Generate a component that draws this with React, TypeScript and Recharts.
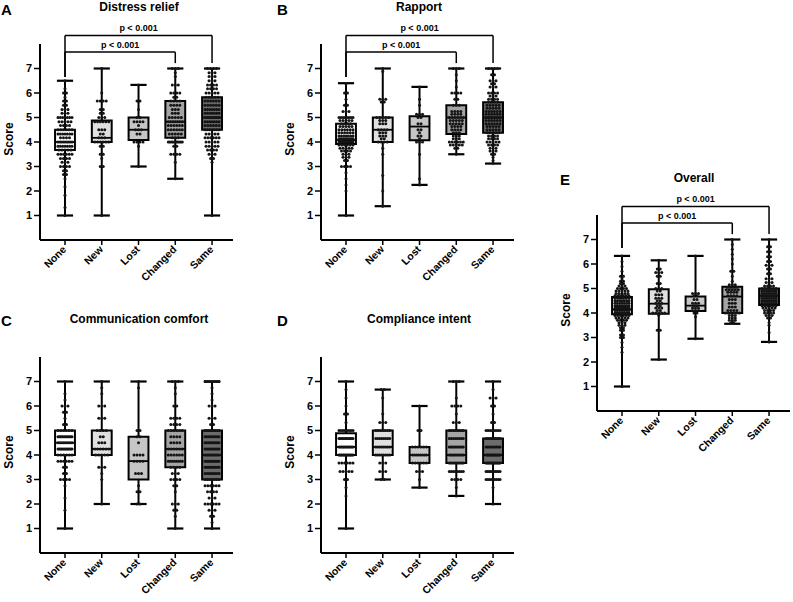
import React from 'react';
import { ComposedChart, XAxis, YAxis, Scatter, ReferenceArea, ReferenceLine } from 'recharts';

const FONT = '"Liberation Sans", Arial, Helvetica, sans-serif';

const categories = ['None', 'New', 'Lost', 'Changed', 'Same'];
const yTicks = [1, 2, 3, 4, 5, 6, 7];
const xTicks = [0, 1, 2, 3, 4];
const boxFills = ['#ffffff', '#e0e0e0', '#c6c6c6', '#a4a4a4', '#6c6c6c'];

// box statistics per category: [min, q1, median, q3, max]
const distressBoxes = [
  [1, 3.67, 4, 4.5, 6.5],
  [1, 4, 4.17, 4.88, 7],
  [3, 4.08, 4.5, 5, 6.33],
  [2.5, 4.17, 4.83, 5.67, 7],
  [1, 4.5, 5, 5.83, 7],
];
const rapportBoxes = [
  [1, 3.92, 4.08, 4.75, 6.4],
  [1.38, 4, 4.5, 5, 7],
  [2.25, 4.07, 4.63, 5.05, 6.25],
  [3.5, 4.33, 5, 5.5, 7],
  [3.12, 4.38, 5, 5.62, 7],
];
const commBoxes = [
  [1, 4, 4.5, 5, 7],
  [2, 4, 4.25, 5, 7],
  [2, 3, 3.75, 4.75, 7],
  [1, 3.5, 4.25, 5, 7],
  [1, 3, 4, 5, 7],
];
const complianceBoxes = [
  [1, 4, 4.33, 4.89, 7],
  [3, 4, 4.33, 5, 6.67],
  [2.67, 3.67, 4, 4.33, 6],
  [2.33, 3.67, 4, 5, 7],
  [2, 3.67, 4, 4.67, 7],
];
const overallBoxes = [
  [1, 3.95, 4.15, 4.65, 6.33],
  [2.1, 3.97, 4.38, 4.97, 6.15],
  [2.95, 4.08, 4.3, 4.67, 6.33],
  [3.56, 4, 4.67, 5.07, 7],
  [2.82, 4.33, 4.7, 5, 7],
];

// individual scores per category as [score, number of respondents]
const distressPoints = [
  [[6.5,1],[6.17,1],[6,2],[5.83,1],[5.67,2],[5.5,2],[5.33,3],[5.17,3],[5,7],[4.83,5],[4.67,4],[4.5,6],[4.33,7],[4.17,4],[4,8],[3.83,7],[3.67,5],[3.5,6],[3.33,4],[3.17,3],[3,4],[2.83,2],[2.67,2],[2.5,1],[2.17,1],[1.83,1],[1.33,1],[1,1]],
  [[7,1],[6,1],[5.67,4],[5.33,2],[5.17,2],[5,3],[4.83,6],[4.5,3],[4.33,2],[4.17,3],[4,6],[3.83,2],[3.5,2],[3.33,1],[3,2],[1,1]],
  [[6.33,1],[5.67,2],[5.33,1],[5,2],[4.83,4],[4.67,1],[4.5,3],[4.33,2],[4,4],[3.83,1],[3,1]],
  [[7,3],[6.83,1],[6.67,1],[6.33,3],[6,4],[5.83,2],[5.67,4],[5.5,4],[5.33,3],[5.17,3],[5,5],[4.83,7],[4.67,6],[4.5,6],[4.33,5],[4.17,3],[4,10],[3.83,2],[3.5,4],[3.17,1],[2.5,1]],
  [[7,4],[6.83,3],[6.67,3],[6.5,3],[6.33,4],[6.17,4],[6,5],[5.83,5],[5.67,6],[5.5,6],[5.33,7],[5.17,7],[5,9],[4.83,7],[4.67,6],[4.5,7],[4.33,5],[4.17,6],[4,5],[3.83,5],[3.67,4],[3.5,3],[3.33,2],[3.17,1],[1,1]],
];
const rapportPoints = [
  [[6.38,1],[6,2],[5.75,1],[5.5,2],[5.25,3],[5,8],[4.88,5],[4.75,4],[4.63,5],[4.5,6],[4.38,6],[4.25,7],[4.13,8],[4,10],[3.88,6],[3.75,5],[3.63,4],[3.5,3],[3.38,3],[3.25,2],[3,4],[2.75,1],[2.5,1],[2.25,1],[2,1],[1,1]],
  [[7,1],[6.88,1],[5.75,3],[5.63,2],[5,5],[4.88,3],[4.75,3],[4.5,4],[4.38,3],[4.25,3],[4.13,2],[4,4],[3.75,1],[3.5,1],[2.63,1],[2,1],[1.38,1]],
  [[6.25,1],[5.75,1],[5.5,1],[5.13,3],[5,2],[4.75,2],[4.5,2],[4.38,1],[4.25,2],[4.13,1],[4,3],[3.5,1],[2.5,1],[2.25,1]],
  [[7,3],[6.75,1],[6.5,1],[6.25,1],[6,4],[5.75,2],[5.5,3],[5.25,4],[5.13,4],[5,6],[4.88,5],[4.75,5],[4.63,4],[4.5,4],[4.38,3],[4.25,3],[4.13,3],[4,6],[3.88,5],[3.75,2],[3.5,1]],
  [[7,4],[6.75,2],[6.5,3],[6.38,2],[6.25,3],[6,4],[5.88,3],[5.75,4],[5.63,4],[5.5,5],[5.38,5],[5.25,6],[5.13,6],[5,8],[4.88,6],[4.75,6],[4.63,5],[4.5,5],[4.38,5],[4.25,4],[4.13,4],[4,5],[3.88,4],[3.75,3],[3.63,3],[3.5,2],[3.38,1],[3.25,1],[3.13,1]],
];
const commPoints = [
  [[7,1],[6.5,1],[6.25,1],[6,3],[5.75,2],[5.5,1],[5.25,2],[5,6],[4.75,12],[4.5,8],[4.25,12],[4,6],[3.75,6],[3.5,2],[3.25,2],[3,4],[2.75,1],[2.25,1],[1.75,1],[1,1]],
  [[7,1],[6.75,1],[6.5,1],[6,3],[5.5,3],[5,4],[4.75,2],[4.5,3],[4.25,6],[4,5],[3.5,3],[3.25,1],[3,1],[2,1]],
  [[7,1],[6.75,1],[5,2],[4.75,2],[4.5,1],[4,4],[3.75,4],[3.25,3],[2.75,1],[2.5,2],[2,2]],
  [[7,3],[6.75,1],[6.5,1],[6,2],[5.5,4],[5.25,4],[5,6],[4.75,4],[4.5,4],[4.25,6],[4,6],[3.75,8],[3.5,4],[3.25,3],[3,4],[2.75,2],[2.5,1],[2,3],[1.75,2],[1.5,1],[1,1]],
  [[7,8],[6.75,1],[6.5,1],[6.25,1],[6,3],[5.5,3],[5.25,2],[5,8],[4.75,10],[4.5,10],[4.25,10],[4,10],[3.75,12],[3.5,10],[3.25,8],[3,7],[2.75,6],[2.5,4],[2.25,3],[2,6],[1.75,3],[1.5,2],[1.25,1],[1,1]],
];
const compliancePoints = [
  [[7,1],[6.67,1],[6.33,1],[6,1],[5.67,2],[5.33,1],[5,8],[4.67,12],[4.33,12],[4,14],[3.67,6],[3.33,5],[3,2],[2.67,1],[2.33,1],[1,1]],
  [[6.67,2],[6.33,1],[5.67,1],[5.33,3],[5,7],[4.67,8],[4.33,8],[4,8],[3.67,3],[3.33,3],[3,2]],
  [[6,1],[5,2],[4.33,6],[4,8],[3.67,6],[3.33,3],[3,1],[2.67,1]],
  [[7,3],[6.33,1],[6,4],[5.67,1],[5.33,3],[5,8],[4.67,8],[4.33,10],[4,10],[3.67,10],[3.33,8],[3,4],[2.67,1],[2.33,1]],
  [[7,1],[6.67,1],[6.33,3],[6,2],[5.67,1],[5.33,2],[5,8],[4.67,8],[4.33,9],[4,14],[3.67,14],[3.33,10],[3,9],[2.67,1],[2,1]],
];
const overallPoints = [
  [[6.33,1],[6.1,1],[5.9,1],[5.7,1],[5.5,2],[5.4,1],[5.3,2],[5.2,2],[5.1,3],[5,4],[4.9,5],[4.8,5],[4.7,6],[4.6,6],[4.5,7],[4.4,7],[4.3,8],[4.2,8],[4.1,7],[4,8],[3.9,6],[3.8,5],[3.7,4],[3.6,3],[3.5,3],[3.4,2],[3.3,2],[3.1,2],[3,2],[2.8,1],[2.6,1],[2.4,1],[1,1]],
  [[6.15,1],[5.8,2],[5.65,3],[5.5,2],[5.2,2],[5,3],[4.9,2],[4.75,3],[4.6,3],[4.5,2],[4.4,3],[4.3,2],[4.2,3],[4.1,2],[4,5],[3.9,1],[3.3,2],[2.1,1]],
  [[6.33,1],[4.8,3],[4.7,2],[4.55,2],[4.4,3],[4.3,2],[4.2,3],[4.1,3],[4,2],[3.85,1],[2.95,1]],
  [[7,1],[6.8,1],[6.6,1],[6.4,1],[6.2,1],[6,1],[5.7,2],[5.5,1],[5.3,1],[5.15,3],[5.05,4],[4.95,5],[4.85,4],[4.7,4],[4.55,3],[4.4,3],[4.25,3],[4.1,4],[4,6],[3.9,3],[3.8,3],[3.7,3],[3.6,2]],
  [[7,1],[6.7,2],[6.5,2],[6.3,2],[6.1,2],[5.95,3],[5.8,2],[5.6,2],[5.4,3],[5.25,3],[5.1,4],[5,6],[4.9,7],[4.8,7],[4.7,7],[4.6,7],[4.5,7],[4.4,6],[4.3,6],[4.2,5],[4.1,4],[4,4],[3.9,3],[3.8,2],[3.6,1],[3.5,1],[3.2,1],[2.82,1]],
];

// pairwise comparisons: [from category, to category, label]
const significantComparisons = [
  [0, 3, 'p < 0.001'],
  [0, 4, 'p < 0.001'],
];

// layout constants
const X_DOMAIN = [-0.68, 4.57];
const BOX_HALF = 0.27;
const CAP_HALF = 0.22;
const BRACKET_LEVELS = [7.67, 8.35];
const BRACKET_LEFT_END = 6.65;
const BRACKET_RIGHT_END = 7.22;
const PLOT_W = 193;
const PLOT_H = 196;
const ROW_MAX_W = 14;
const DOT_GAP = 3.0;

const expandPoints = (groups: number[][][]) => {
  const out: any[] = [];
  groups.forEach((rows, i) => {
    rows.forEach(([v, n]) => {
      for (let k = 0; k < n; k++) out.push({ x: i, y: v, k, n });
    });
  });
  return out;
};

const renderDot = (props: any) => {
  const { cx, cy, payload } = props;
  if (cx == null || cy == null) return <g />;
  const n = payload.n;
  const sp = n > 1 ? Math.min(DOT_GAP, ROW_MAX_W / (n - 1)) : 0;
  const dx = (payload.k - (n - 1) / 2) * sp;
  return <circle cx={cx + dx} cy={cy} r={1.5} fill="#151515" />;
};

const XTick = (props: any) => {
  const { x, y, payload } = props;
  const tx = x + 2;
  const ty = y + 3;
  return (
    <text x={tx} y={ty} transform={`rotate(-45, ${tx}, ${ty})`} textAnchor="end" fontSize={10.5} fontWeight="bold" fill="#000" fontFamily={FONT}>
      {categories[payload.value]}
    </text>
  );
};

const Panel = ({ plotLeft, plotTop, boxes, points, comparisons }: any) => {
  const data = expandPoints(points);
  return (
    <div style={{ position: 'absolute', left: plotLeft - 40, top: plotTop - 45 }}>
      <ComposedChart width={40 + PLOT_W + 8} height={45 + PLOT_H + 45} margin={{ top: 45, right: 8, bottom: 0, left: 0 }}>
        <XAxis
          type="number"
          dataKey="x"
          domain={X_DOMAIN}
          ticks={xTicks}
          interval={0}
          allowDataOverflow
          height={45}
          stroke="#000"
          axisLine={{ stroke: '#000', strokeWidth: 2 }}
          tickLine={{ stroke: '#000', strokeWidth: 1.5 }}
          tickSize={5}
          tick={<XTick />}
        />
        <YAxis
          type="number"
          dataKey="y"
          domain={[0, 8]}
          ticks={yTicks}
          interval={0}
          allowDataOverflow
          width={40}
          stroke="#000"
          axisLine={{ stroke: '#000', strokeWidth: 2 }}
          tickLine={{ stroke: '#000', strokeWidth: 1.5 }}
          tickSize={6}
          tickMargin={2}
          tick={{ fill: '#000', fontSize: 11, fontWeight: 'bold', fontFamily: FONT }}
        />
        {boxes.map((b: number[], i: number) => (
          <ReferenceArea key={'box' + i} x1={i - BOX_HALF} x2={i + BOX_HALF} y1={b[1]} y2={b[3]} fill={boxFills[i]} fillOpacity={1} stroke="#000" strokeWidth={2} />
        ))}
        {boxes.map((b: number[], i: number) => (
          <ReferenceLine key={'wl' + i} segment={[{ x: i, y: b[0] }, { x: i, y: b[1] }]} stroke="#000" strokeWidth={2} />
        ))}
        {boxes.map((b: number[], i: number) => (
          <ReferenceLine key={'wh' + i} segment={[{ x: i, y: b[3] }, { x: i, y: b[4] }]} stroke="#000" strokeWidth={2} />
        ))}
        {boxes.map((b: number[], i: number) => (
          <ReferenceLine key={'cl' + i} segment={[{ x: i - CAP_HALF, y: b[0] }, { x: i + CAP_HALF, y: b[0] }]} stroke="#000" strokeWidth={2.2} />
        ))}
        {boxes.map((b: number[], i: number) => (
          <ReferenceLine key={'ch' + i} segment={[{ x: i - CAP_HALF, y: b[4] }, { x: i + CAP_HALF, y: b[4] }]} stroke="#000" strokeWidth={2.2} />
        ))}
        <Scatter data={data} shape={renderDot} isAnimationActive={false} />
        {boxes.map((b: number[], i: number) => (
          <ReferenceLine key={'md' + i} segment={[{ x: i - BOX_HALF, y: b[2] }, { x: i + BOX_HALF, y: b[2] }]} stroke="#000" strokeWidth={1.8} />
        ))}
        {(comparisons || []).map((c: any[], j: number) => {
          const lvl = BRACKET_LEVELS[j];
          return [
            <ReferenceLine key={'bh' + j} ifOverflow="visible" segment={[{ x: c[0], y: lvl }, { x: c[1], y: lvl }]} stroke="#000" strokeWidth={1.5}
              label={{ value: c[2], position: 'top', offset: 4, fill: '#000', fontSize: 9, fontWeight: 'bold', fontFamily: FONT }} />,
            <ReferenceLine key={'bl' + j} ifOverflow="visible" segment={[{ x: c[0], y: lvl }, { x: c[0], y: BRACKET_LEFT_END }]} stroke="#000" strokeWidth={1.5} />,
            <ReferenceLine key={'br' + j} ifOverflow="visible" segment={[{ x: c[1], y: lvl }, { x: c[1], y: BRACKET_RIGHT_END }]} stroke="#000" strokeWidth={1.5} />,
          ];
        })}
      </ComposedChart>
    </div>
  );
};

const textBase: React.CSSProperties = {
  position: 'absolute',
  whiteSpace: 'nowrap',
  fontFamily: FONT,
  fontWeight: 'bold',
  color: '#000',
  lineHeight: 1,
};

const Title = ({ x, y, children }: any) => (
  <div style={{ ...textBase, left: x, top: y, fontSize: 12, transform: 'translate(-50%, -50%)' }}>{children}</div>
);
const Letter = ({ x, y, children }: any) => (
  <div style={{ ...textBase, left: x, top: y, fontSize: 15, transform: 'translate(0, -50%)' }}>{children}</div>
);
const ScoreLabel = ({ x, y }: any) => (
  <div style={{ ...textBase, left: x, top: y, fontSize: 12, transform: 'translate(-50%, -50%) rotate(-90deg)' }}>Score</div>
);

const panels = [
  { key: 'A', title: 'Distress relief', plotLeft: 40, plotTop: 43.5, boxes: distressBoxes, points: distressPoints, comparisons: significantComparisons, titleX: 139, titleY: 7, letterX: 1, letterY: 9 },
  { key: 'B', title: 'Rapport', plotLeft: 321, plotTop: 44, boxes: rapportBoxes, points: rapportPoints, comparisons: significantComparisons, titleX: 419, titleY: 7, letterX: 277, letterY: 9 },
  { key: 'C', title: 'Communication comfort', plotLeft: 40, plotTop: 356.5, boxes: commBoxes, points: commPoints, comparisons: null, titleX: 139, titleY: 319, letterX: 1, letterY: 320 },
  { key: 'D', title: 'Compliance intent', plotLeft: 321, plotTop: 356.5, boxes: complianceBoxes, points: compliancePoints, comparisons: null, titleX: 419, titleY: 319, letterX: 277, letterY: 320 },
  { key: 'E', title: 'Overall', plotLeft: 597, plotTop: 215, boxes: overallBoxes, points: overallPoints, comparisons: significantComparisons, titleX: 694, titleY: 178, letterX: 560, letterY: 179 },
];

export default function App() {
  return (
    <div style={{ position: 'absolute', left: 0, top: 0, width: 793, height: 602, background: '#fff', overflow: 'hidden' }}>
      {panels.map((p) => (
        <React.Fragment key={p.key}>
          <Panel plotLeft={p.plotLeft} plotTop={p.plotTop} boxes={p.boxes} points={p.points} comparisons={p.comparisons} />
          <Letter x={p.letterX} y={p.letterY}>{p.key}</Letter>
          <Title x={p.titleX} y={p.titleY}>{p.title}</Title>
          <ScoreLabel x={p.plotLeft - 31} y={p.plotTop + 95} />
        </React.Fragment>
      ))}
    </div>
  );
}
